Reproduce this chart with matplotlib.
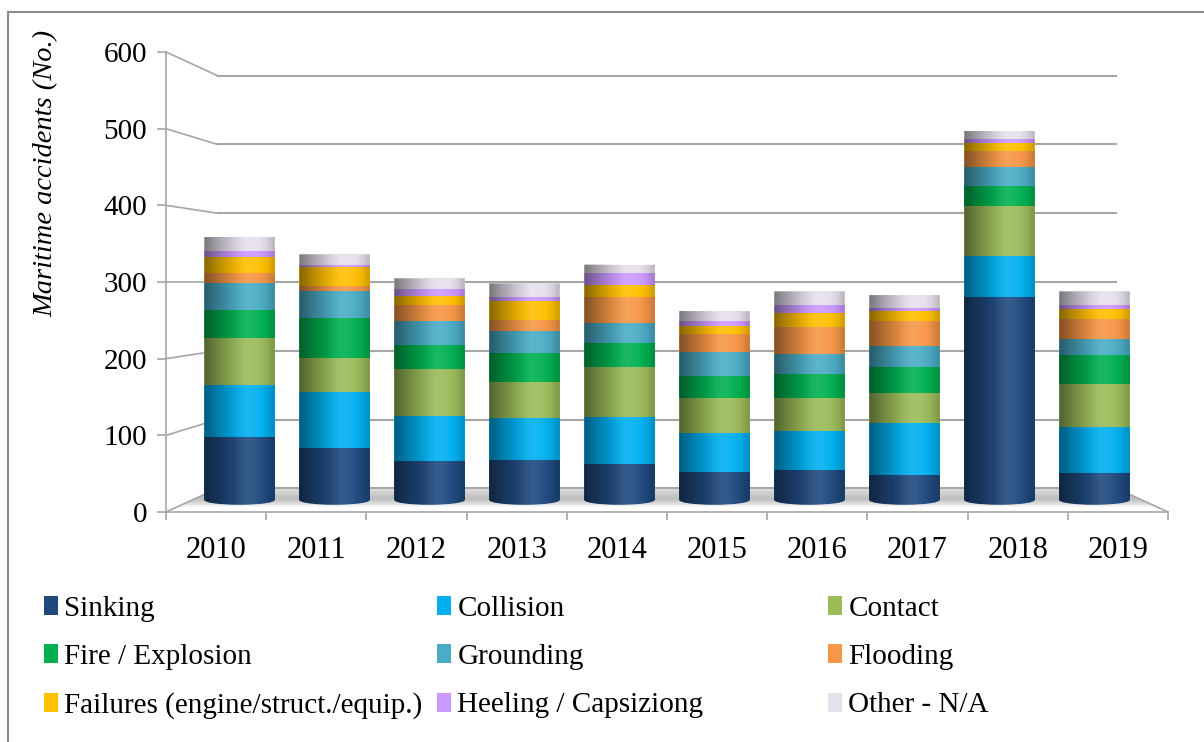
import numpy as np
import matplotlib.pyplot as plt
from matplotlib.patches import Patch, Ellipse, PathPatch, Polygon
from matplotlib.path import Path

plt.rcParams['font.family'] = ['Liberation Serif', 'DejaVu Serif']

# --- data: maritime accidents per year and cause ---
years = ['2010', '2011', '2012', '2013', '2014', '2015', '2016', '2017', '2018', '2019']
causes = ['Sinking', 'Collision', 'Contact', 'Fire / Explosion', 'Grounding', 'Flooding',
          'Failures (engine/struct./equip.)', 'Heeling / Capsiziong', 'Other - N/A']
sinking = [87, 71, 54, 55, 49, 39, 42, 34, 280, 37]
collision = [71, 77, 62, 58, 65, 53, 53, 72, 56, 64]
contact = [65, 47, 64, 49, 69, 49, 46, 41, 69, 59]
fire = [38, 55, 33, 40, 33, 30, 33, 36, 27, 40]
grounding = [38, 37, 33, 30, 27, 32, 27, 29, 26, 21]
flooding = [13, 8, 22, 16, 36, 25, 37, 34, 22, 28]
failures = [23, 26, 13, 26, 17, 12, 19, 14, 11, 14]
heeling = [7, 2, 9, 5, 16, 6, 11, 4, 6, 6]
other = [20, 15, 15, 19, 12, 14, 19, 18, 11, 18]
yticks = [0, 100, 200, 300, 400, 500, 600]

series = [sinking, collision, contact, fire, grounding, flooding, failures, heeling, other]
colors = ['#1F497D', '#00B0F0', '#9BBB59', '#00B050', '#4BACC6', '#F79646',
          '#FFC000', '#CC99FF', '#E6E0EC']

# --- fake 3D geometry (pixels) ---
W, H = 1204, 742
CX, CY = 667, 282          # perspective centre
HALF_W, HALF_H = 501, 230  # half size of the front plane
S_BACK, S_BAR = 0.897, 0.948
VMAX = 600
GRID = '#a6a6a6'

fig = plt.figure(figsize=(W / 100, H / 100), dpi=100)


def ypx(v, s):
    return CY + HALF_H * s - 2 * HALF_H * s * v / VMAX


def depth_axes(s, vmin, vmax, z):
    left, right = CX - HALF_W * s, CX + HALF_W * s
    top, bottom = ypx(vmax, s), ypx(vmin, s)
    ax = fig.add_axes([left / W, 1 - bottom / H, (right - left) / W, (bottom - top) / H], zorder=z)
    ax.set_xlim(-0.5, len(years) - 0.5)
    ax.set_ylim(vmin, vmax)
    ax.set_facecolor('none')
    return ax


# decoration layer in pixel coordinates
deco = fig.add_axes([0, 0, 1, 1], zorder=0)
deco.axis('off')
deco.plot([8, W], [12, 12], color='#8c8c8c', lw=1.5)
deco.plot([8, 8], [12, H], color='#8c8c8c', lw=1.5)

# floor with soft shadow band
fl, fr = CX - HALF_W, CX + HALF_W
bl, br = CX - HALF_W * S_BACK, CX + HALF_W * S_BACK
yf, yb = ypx(0, 1), ypx(0, S_BACK)
floor = Polygon([[fl, yf], [fr, yf], [br, yb], [bl, yb]], closed=True, facecolor='none', edgecolor='none')
deco.add_patch(floor)
g = np.interp(np.linspace(0, 1, 60), [0, 0.45, 0.7, 0.8, 1], [0.88, 0.74, 0.9, 1.0, 1.0])
floor_img = np.repeat(np.stack([g, g, g], axis=-1)[:, None, :], 2, axis=1)
im = deco.imshow(floor_img, extent=(fl, fr, yf, yb), aspect='auto', zorder=0.5)
im.set_clip_path(floor)
deco.set_xlim(0, W)
deco.set_ylim(H, 0)
deco.plot([fr, br], [yf, yb], color=GRID, lw=1.2)

# slanted connectors from the front axis to the back wall
for v in yticks:
    deco.plot([fl, bl], [ypx(v, 1), ypx(v, S_BACK)], color=GRID, lw=1.2)

# back wall gridlines
ax_back = depth_axes(S_BACK, 0, VMAX, 1)
ax_back.axis('off')
for v in yticks:
    ax_back.axhline(v, color=GRID, lw=1.5, clip_on=False)

# cylinders
ax_bar = depth_axes(S_BAR, -20, VMAX, 3)
ax_bar.axis('off')
BW = 0.74
EH = 13
x = np.arange(len(years))
bottom = np.zeros(len(years))
for vals, c in zip(series, colors):
    ax_bar.bar(x, vals, bottom=bottom, width=BW, color=c, linewidth=0, zorder=2)
    bottom += np.array(vals)
totals = bottom

t = np.linspace(0, 1, 200)
dark = 0.48 * np.clip(1 - t / 0.6, 0, 1) ** 1.3 + 0.22 * np.clip((t - 0.75) / 0.25, 0, 1) ** 2
light = 0.1 * np.exp(-((t - 0.62) / 0.18) ** 2)
shade_dark = np.zeros((1, t.size, 4))
shade_dark[0, :, 3] = dark
shade_light = np.ones((1, t.size, 4))
shade_light[0, :, 3] = light

th = np.linspace(np.pi, 2 * np.pi, 40)
for xi, tot in zip(x, totals):
    ax_bar.add_patch(Ellipse((xi, 0), BW, EH, facecolor=colors[0], edgecolor='none', zorder=1.9))
    ex = xi + BW / 2 * np.cos(th)
    ey = EH / 2 * np.sin(th)
    verts = np.column_stack([np.r_[ex, xi + BW / 2, xi - BW / 2, ex[0]],
                             np.r_[ey, tot, tot, ey[0]]])
    outline = PathPatch(Path(verts, closed=True), transform=ax_bar.transData)
    for img in (shade_dark, shade_light):
        im = ax_bar.imshow(img, extent=(xi - BW / 2, xi + BW / 2, -EH / 2, tot),
                           aspect='auto', zorder=3, interpolation='bilinear')
        im.set_clip_path(outline)
ax_bar.set_xlim(-0.5, len(years) - 0.5)
ax_bar.set_ylim(-20, VMAX)

# front axis with labels
ax_f = depth_axes(1, 0, VMAX, 2)
for side in ['top', 'right']:
    ax_f.spines[side].set_visible(False)
for side in ['left', 'bottom']:
    ax_f.spines[side].set_color(GRID)
    ax_f.spines[side].set_linewidth(1.2)
ax_f.set_yticks(yticks)
ax_f.tick_params(axis='y', direction='out', length=6.5, width=1.2, color=GRID,
                 labelsize=21, pad=7)
ax_f.set_xticks(x)
ax_f.set_xticklabels(years)
ax_f.set_xticks(np.arange(-0.5, len(years), 1), minor=True)
ax_f.tick_params(axis='x', which='major', length=0, labelsize=22, pad=17)
ax_f.tick_params(axis='x', which='minor', direction='out', length=6, width=1.2, color=GRID)

fig.text(46 / W, 1 - 173 / H, 'Maritime accidents (No.)', rotation=90, style='italic',
         fontsize=20.5, ha='center', va='center')

# legend in three columns
col_x = [44, 437, 828]
for j, cx in enumerate(col_x):
    idx = [j, j + 3, j + 6]
    handles = [Patch(facecolor=colors[k], edgecolor='none') for k in idx]
    fig.legend(handles, [causes[k] for k in idx], loc='upper left',
               bbox_to_anchor=(cx / W, 1 - 596 / H), frameon=False, fontsize=21,
               handlelength=0.48, handleheight=0.62, handletextpad=0.22,
               labelspacing=0.76, borderpad=0, borderaxespad=0)

fig.savefig('out.png', dpi=100)
